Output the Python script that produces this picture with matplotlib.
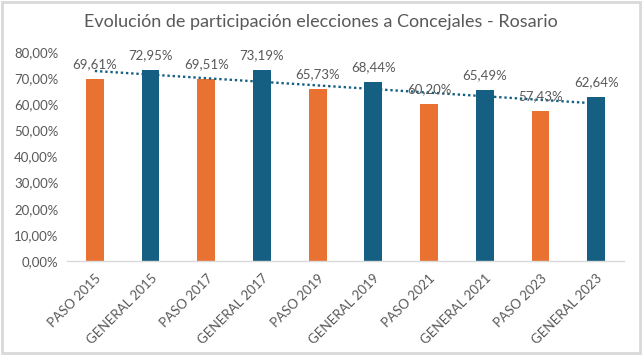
import matplotlib
matplotlib.use("Agg")
import matplotlib.pyplot as plt
from matplotlib.patches import FancyBboxPatch
import numpy as np

categories = ["PASO 2015", "GENERAL 2015", "PASO 2017", "GENERAL 2017", "PASO 2019",
              "GENERAL 2019", "PASO 2021", "GENERAL 2021", "PASO 2023", "GENERAL 2023"]
values = [69.61, 72.95, 69.51, 73.19, 65.73, 68.44, 60.20, 65.49, 57.43, 62.64]
labels = ["69,61%", "72,95%", "69,51%", "73,19%", "65,73%", "68,44%", "60,20%", "65,49%", "57,43%", "62,64%"]
yticks = [0, 10, 20, 30, 40, 50, 60, 70, 80]
ytick_labels = ["0,00%", "10,00%", "20,00%", "30,00%", "40,00%", "50,00%", "60,00%", "70,00%", "80,00%"]

ORANGE = "#E97132"
BLUE = "#156082"
TXT = "#595959"

plt.rcParams['font.family'] = ['Lato', 'DejaVu Sans']

fig = plt.figure(figsize=(6.42, 3.55), dpi=100)
ax = fig.add_axes([67/642, 1-261/355, (624-67)/642, (261-52)/355])

x = np.arange(len(categories))
colors = [ORANGE if c.startswith("PASO") else BLUE for c in categories]
ax.bar(x, values, width=0.32, color=colors, zorder=2)

# linear trendline
coef = np.polyfit(x, values, 1)
ax.plot(x, np.polyval(coef, x), linestyle=(0, (1, 1.2)), color=BLUE, lw=1.7, zorder=3)

for xi, v, lab in zip(x, values, labels):
    ax.annotate(lab, (xi, v), xytext=(0, 6.5), textcoords="offset points",
                ha="center", va="bottom", fontsize=9.5, color=TXT, zorder=4)

ax.set_xlim(-0.5, len(categories) - 0.5)
ax.set_ylim(0, 80)
ax.set_yticks(yticks)
ax.set_yticklabels(ytick_labels, fontsize=9.5, color=TXT)
ax.set_xticks(x)
ax.set_xticklabels(categories, rotation=45, ha="right", rotation_mode="anchor",
                   fontsize=9.5, color=TXT)
ax.tick_params(axis="both", length=0, pad=6)
ax.tick_params(axis="x", pad=8)
for s in ["top", "right", "left"]:
    ax.spines[s].set_visible(False)
ax.spines["bottom"].set_color("#D9D9D9")
ax.spines["bottom"].set_linewidth(1)

fig.text(0.5, 1-22/355, "Evolución de participación elecciones a Concejales - Rosario",
         ha="center", va="center", fontsize=13, color=TXT)

border = FancyBboxPatch((2/642, 2/355), 1-4/642, 1-4/355, boxstyle="square,pad=0",
                        transform=fig.transFigure, fill=False, edgecolor="#D9D9D9", lw=2)
fig.add_artist(border)

fig.savefig("out.png", dpi=100)
